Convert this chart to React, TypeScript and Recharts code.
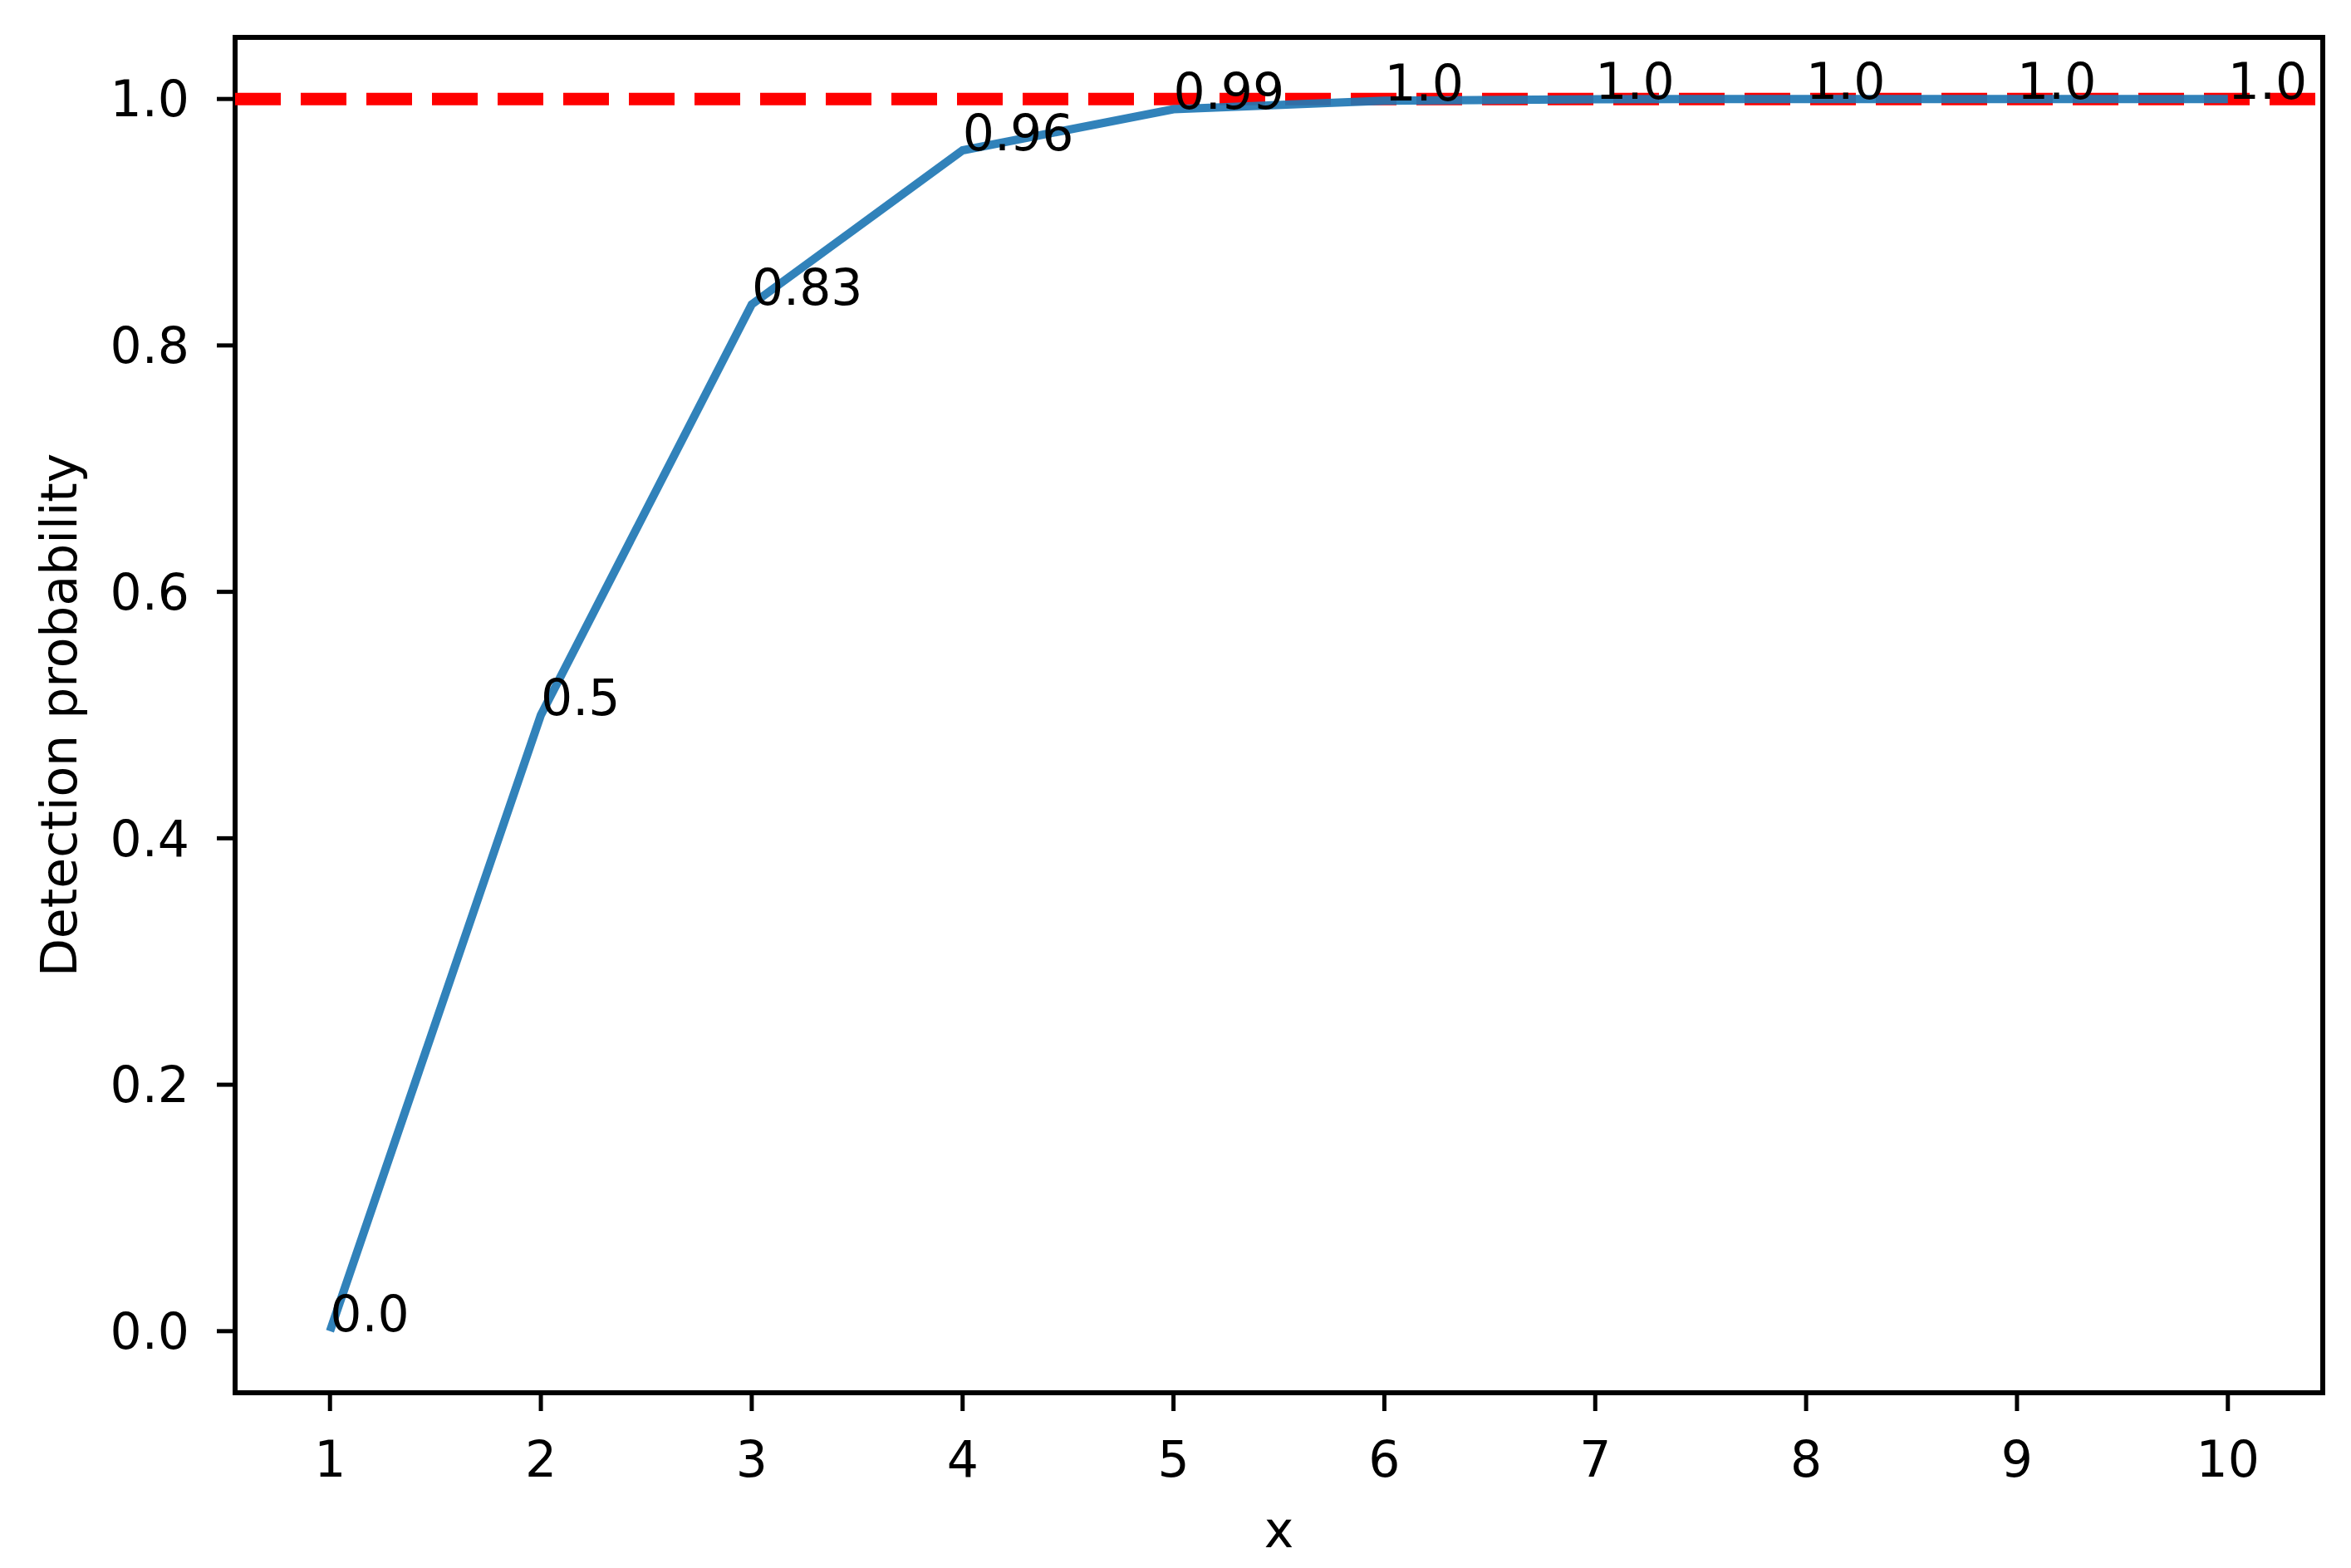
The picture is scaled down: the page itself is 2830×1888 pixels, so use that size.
import { LabelList, Line, LineChart, ReferenceArea, ReferenceLine, XAxis, YAxis } from 'recharts';

const xValues = [1, 2, 3, 4, 5, 6, 7, 8, 9, 10];
const probValues = [0, 0.5, 0.8333, 0.9583, 0.9917, 0.9986, 0.9998, 1.0, 1.0, 1.0];
const xTicks = [1, 2, 3, 4, 5, 6, 7, 8, 9, 10];
const yTicks = [0, 0.2, 0.4, 0.6, 0.8, 1.0];
const threshold = 1.0;

const FONT = "'DejaVu Sans', sans-serif";
const FS = 60;

const data = xValues.map((x, i) => ({ x, p: probValues[i] }));

// python-style str(round(v, 2))
function fmtProb(v: number): string {
  const r = Math.round(v * 100) / 100;
  return Number.isInteger(r) ? r.toFixed(1) : String(r);
}

function PointLabel(props: any) {
  const { x, y, value } = props;
  if (x == null || y == null) return null;
  return (
    <text x={x} y={y} fontSize={FS} fontFamily={FONT} fill="#000" textAnchor="start">
      {fmtProb(Number(value))}
    </text>
  );
}

export default function App() {
  const tickStyle = { fill: '#000', fontSize: FS, fontFamily: FONT };
  const tickLine = { stroke: '#000', strokeWidth: 5 };

  return (
    <div style={{ position: 'absolute', left: 0, top: 0, background: '#fff' }}>
      <LineChart
        width={2830}
        height={1888}
        data={data}
        margin={{ top: 45, right: 34, bottom: 0, left: 0 }}
      >
        <XAxis
          type="number"
          dataKey="x"
          domain={[0.55, 10.45]}
          ticks={xTicks}
          allowDataOverflow
          height={211}
          axisLine={false}
          tickLine={tickLine}
          tickSize={22}
          tickMargin={36}
          tick={tickStyle}
          label={{
            content: (p: any) => {
              const vb = p.viewBox;
              return (
                <text
                  x={vb.x + vb.width / 2}
                  y={vb.y + 186}
                  textAnchor="middle"
                  fontSize={FS}
                  fontFamily={FONT}
                  fill="#000"
                >
                  x
                </text>
              );
            },
          }}
        />
        <YAxis
          type="number"
          domain={[-0.05, 1.05]}
          ticks={yTicks}
          allowDataOverflow
          width={283}
          axisLine={false}
          tickLine={tickLine}
          tickSize={22}
          tickMargin={33}
          tick={tickStyle}
          tickFormatter={(v: number) => v.toFixed(1)}
          label={{
            content: (p: any) => {
              const vb = p.viewBox;
              const cx = vb.x + 92;
              const cy = vb.y + vb.height / 2;
              return (
                <text
                  x={cx}
                  y={cy}
                  transform={`rotate(-90 ${cx} ${cy})`}
                  textAnchor="middle"
                  fontSize={FS}
                  fontFamily={FONT}
                  fill="#000"
                >
                  Detection probability
                </text>
              );
            },
          }}
        />
        <ReferenceLine
          y={threshold}
          stroke="#ff0000"
          strokeWidth={15}
          strokeDasharray="55 24"
        />
        <Line
          type="linear"
          dataKey="p"
          stroke="#1f77b4"
          strokeOpacity={0.92}
          strokeWidth={10}
          dot={false}
          activeDot={false}
          isAnimationActive={false}
        >
          <LabelList dataKey="p" content={PointLabel} />
        </Line>
        <ReferenceArea
          x1={0.55}
          x2={10.45}
          y1={-0.05}
          y2={1.05}
          fill="none"
          stroke="#000"
          strokeWidth={6}
          ifOverflow="visible"
        />
      </LineChart>
    </div>
  );
}
